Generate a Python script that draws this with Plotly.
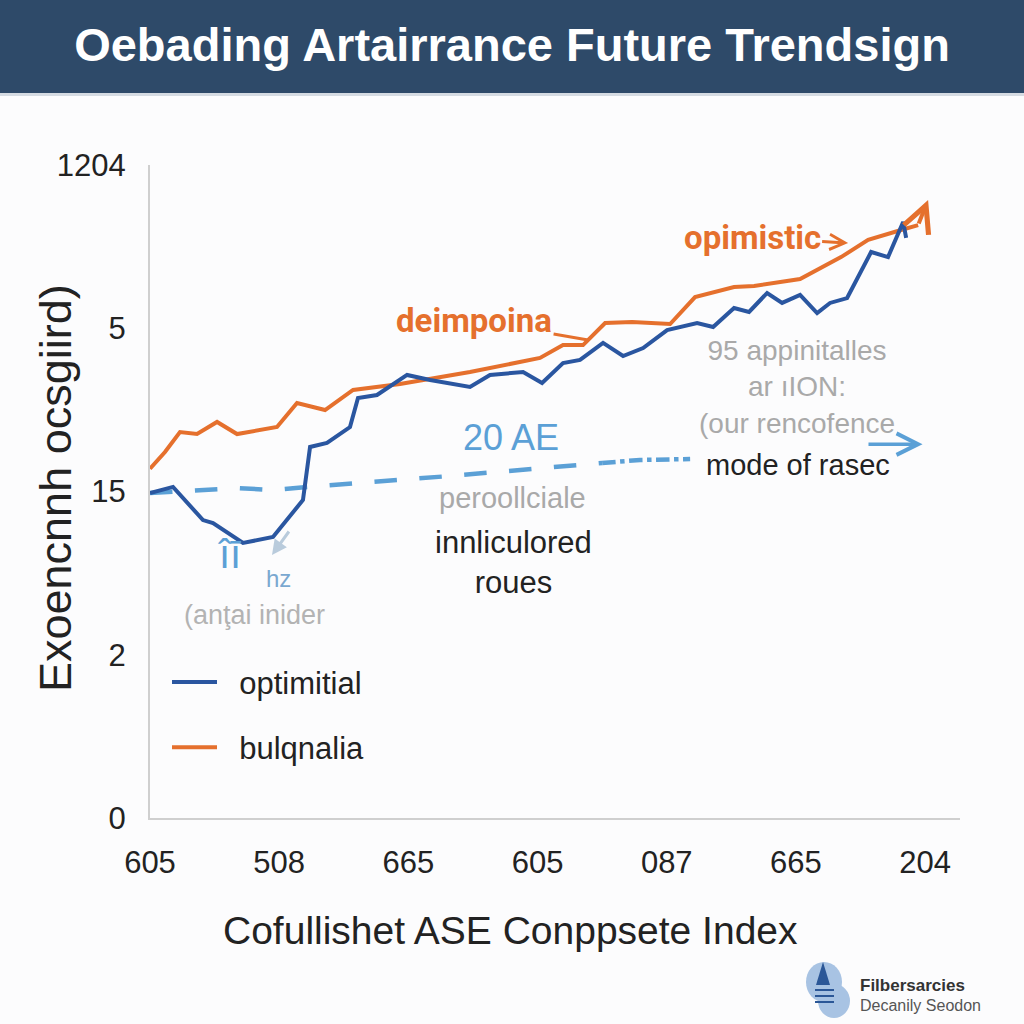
import plotly.graph_objects as go

# ---------------- data ----------------
x_tick_vals = [0, 1, 2, 3, 4, 5, 6]
x_tick_text = ["605", "508", "665", "605", "087", "665", "204"]
y_tick_vals = [0, 1, 2, 3, 4]
y_tick_text = ["0", "2", "15", "5", "1204"]

orange_x = [0.0, 0.116, 0.232, 0.364, 0.519, 0.674, 0.983, 1.138, 1.355, 1.572, 1.935, 2.477,
            3.019, 3.197, 3.352, 3.523, 3.732, 4.026, 4.219, 4.521, 4.676, 5.032, 5.349,
            5.559, 5.814, 5.946]
orange_y = [2.14, 2.242, 2.364, 2.352, 2.426, 2.352, 2.395, 2.542, 2.499, 2.622, 2.658, 2.732,
            2.818, 2.897, 2.897, 3.032, 3.038, 3.026, 3.191, 3.253, 3.259, 3.302, 3.436,
            3.541, 3.602, 3.632]

blue_x = [0.0, 0.178, 0.410, 0.488, 0.720, 0.952, 1.184, 1.239, 1.370, 1.548, 1.610, 1.757,
          1.990, 2.168, 2.477, 2.632, 2.888, 3.035, 3.197, 3.329, 3.507, 3.662, 3.817, 4.003,
          4.235, 4.359, 4.521, 4.637, 4.777, 4.893, 5.032, 5.164, 5.264, 5.396, 5.582, 5.713,
          5.830, 5.853]
blue_y = [1.991, 2.028, 1.825, 1.807, 1.685, 1.721, 1.948, 2.273, 2.297, 2.395, 2.573, 2.591,
          2.714, 2.683, 2.640, 2.714, 2.732, 2.665, 2.787, 2.806, 2.910, 2.830, 2.879, 2.989,
          3.032, 3.008, 3.124, 3.100, 3.216, 3.155, 3.204, 3.093, 3.155, 3.185, 3.467, 3.436,
          3.651, 3.553]

band_x = [0.0, 0.674, 0.952, 1.215, 2.323, 3.5]
band_y = [1.991, 2.021, 2.009, 2.028, 2.095, 2.175]
band_tail_x = [3.5, 3.793, 4.181]
band_tail_y = [2.175, 2.193, 2.199]

orange_arrow_end = (6.023, 3.786)
band_arrow = (5.55, 5.98, 2.29)

ORANGE = "#e5702d"
BLUE = "#2a56a0"
LBLUE = "#5ba0d6"
FONT = "Liberation Sans, Arial, sans-serif"

# plot area in pixels (for paper conversion of decorative elements)
L, R, T, B = 150, 960, 165, 818
def px(x):
    return (x - L) / (R - L)
def py(y):
    return (B - y) / (B - T)

fig = go.Figure()

fig.add_trace(go.Scatter(x=band_x, y=band_y, mode="lines", showlegend=False,
                         line=dict(color=LBLUE, width=4.5, dash="longdash"), hoverinfo="skip"))
fig.add_trace(go.Scatter(x=band_tail_x, y=band_tail_y, mode="lines", showlegend=False,
                         line=dict(color=LBLUE, width=4.5, dash="dashdot"), hoverinfo="skip"))
fig.add_trace(go.Scatter(x=orange_x, y=orange_y, mode="lines", name="\u00a0\u00a0bulqnalia",
                         legendgroup="b", legendrank=2,
                         line=dict(color=ORANGE, width=4)))
fig.add_trace(go.Scatter(x=blue_x, y=blue_y, mode="lines", name="\u00a0\u00a0optimitial",
                         legendgroup="a", legendrank=1,
                         line=dict(color=BLUE, width=4)))

ann = []
# orange end arrow
ann.append(dict(x=orange_arrow_end[0], y=orange_arrow_end[1], ax=orange_x[-1], ay=orange_y[-1],
                xref="x", yref="y", axref="x", ayref="y", text="", showarrow=True,
                arrowhead=5, arrowsize=1.3, arrowwidth=4, arrowcolor=ORANGE))
# light-blue band arrow
ann.append(dict(x=band_arrow[1], y=band_arrow[2], ax=band_arrow[0], ay=band_arrow[2],
                xref="x", yref="y", axref="x", ayref="y", text="", showarrow=True,
                arrowhead=5, arrowsize=1.2, arrowwidth=3.5, arrowcolor=LBLUE))
# labels with leader lines
ann.append(dict(x=5.404, y=3.522, ax=-96, ay=-6, text="<b>opimistic</b>", showarrow=True,
                arrowhead=5, arrowsize=1, arrowwidth=3, arrowcolor=ORANGE,
                font=dict(family="Roboto, Lato, sans-serif", size=33, color=ORANGE)))
ann.append(dict(x=3.391, y=2.928, ax=-114, ay=-20, text="<b>deimpoina</b>", showarrow=True,
                arrowhead=0, arrowwidth=3, arrowcolor=ORANGE,
                font=dict(family="Roboto, Lato, sans-serif", size=33, color=ORANGE)))

def txt(x, y, text, size, color, family=FONT, xanchor="center"):
    ann.append(dict(x=px(x), y=py(y), xref="paper", yref="paper", text=text, showarrow=False,
                    xanchor=xanchor, yanchor="middle",
                    font=dict(family=family, size=size, color=color)))

txt(797, 387, "95 appinitalles<br>ar ıION:<br>(our rencofence", 28, "#a9a9a9")
txt(798, 465, "mode of rasec", 29, "#222222")
txt(511, 437, "20 AE", 36, LBLUE)
txt(512, 498, "peroollciale", 29, "#a9a9a9")
txt(513, 562, "innliculored<br>roues", 31, "#222222")
txt(229, 554, "îī", 40, LBLUE)
txt(278, 578, "hz", 24, "#7aa8d0")
txt(254, 615, "(anţai inider", 27, "#b3b3b3")
# small gray arrow near "hz"
ann.append(dict(x=px(272), y=py(555), ax=18, ay=-25, xref="paper", yref="paper", text="",
                showarrow=True, arrowhead=2, arrowwidth=3, arrowcolor="#b9cbdc"))
# axis titles
txt(510, 930, "Cofullishet ASE Conppsete Index", 39, "#222222")
ann.append(dict(x=px(55), y=py(488), xref="paper", yref="paper", text="Exoencnnh ocsgiird)",
                showarrow=False, textangle=-90, xanchor="center", yanchor="middle",
                font=dict(family=FONT, size=45, color="#222222")))
# logo text
txt(858, 985, "<b>Filbersarcies</b>", 17, "#333333", xanchor="left")
txt(858, 1005, "Decanily Seodon", 16, "#555555", xanchor="left")

shapes = [
    # title banner
    dict(type="rect", xref="paper", yref="paper", x0=px(0), x1=px(1024), y0=py(93), y1=py(0),
         fillcolor="#2e4a69", line=dict(width=0), layer="below"),
    dict(type="rect", xref="paper", yref="paper", x0=px(0), x1=px(1024), y0=py(96), y1=py(93),
         fillcolor="#d5dbe2", line=dict(width=0), layer="below"),
    # logo
    dict(type="circle", xref="paper", yref="paper", x0=px(806), x1=px(842), y0=py(1002), y1=py(962),
         fillcolor="#a8c3e3", line=dict(width=0)),
    dict(type="circle", xref="paper", yref="paper", x0=px(818), x1=px(850), y0=py(1018), y1=py(984),
         fillcolor="#a8c3e3", line=dict(width=0)),
    dict(type="path", xref="paper", yref="paper",
         path=f"M {px(823)} {py(962)} L {px(816)} {py(985)} L {px(830)} {py(985)} Z",
         fillcolor="#2b5797", line=dict(width=0)),
]
for yy in (990, 996, 1002):
    shapes.append(dict(type="line", xref="paper", yref="paper", x0=px(815), x1=px(834),
                       y0=py(yy), y1=py(yy), line=dict(color="#2b5797", width=2)))

fig.update_layout(
    width=1024, height=1024,
    paper_bgcolor="#fcfcfd", plot_bgcolor="#fcfcfd",
    margin=dict(l=L, r=1024 - R, t=T, b=1024 - B),
    title=dict(text="<b>Oebading Artairrance Future Trendsign</b>", x=0.5, xanchor="center",
               y=1 - 45 / 1024, yanchor="middle", yref="container",
               font=dict(family=FONT, size=47, color="white")),
    xaxis=dict(range=[0, 6.27], tickvals=x_tick_vals, ticktext=x_tick_text, showgrid=False,
               zeroline=False, showline=True, linecolor="#cfcfcf", linewidth=2, ticks="",
               ticklabelstandoff=16, tickfont=dict(family=FONT, size=31, color="#222222")),
    yaxis=dict(range=[0, 4], tickvals=y_tick_vals, ticktext=y_tick_text, showgrid=False,
               zeroline=False, showline=True, linecolor="#cfcfcf", linewidth=2, ticks="",
               ticklabelstandoff=16, tickfont=dict(family=FONT, size=31, color="#222222")),
    legend=dict(x=0.021, y=0.249, xanchor="left", yanchor="top", traceorder="grouped",
                tracegroupgap=22, itemwidth=45, bgcolor="rgba(0,0,0,0)",
                font=dict(family=FONT, size=31, color="#222222")),
    annotations=ann, shapes=shapes,
)

fig.write_html("out.html", config={"displayModeBar": False},
               post_script="document.body.style.margin='0';")
